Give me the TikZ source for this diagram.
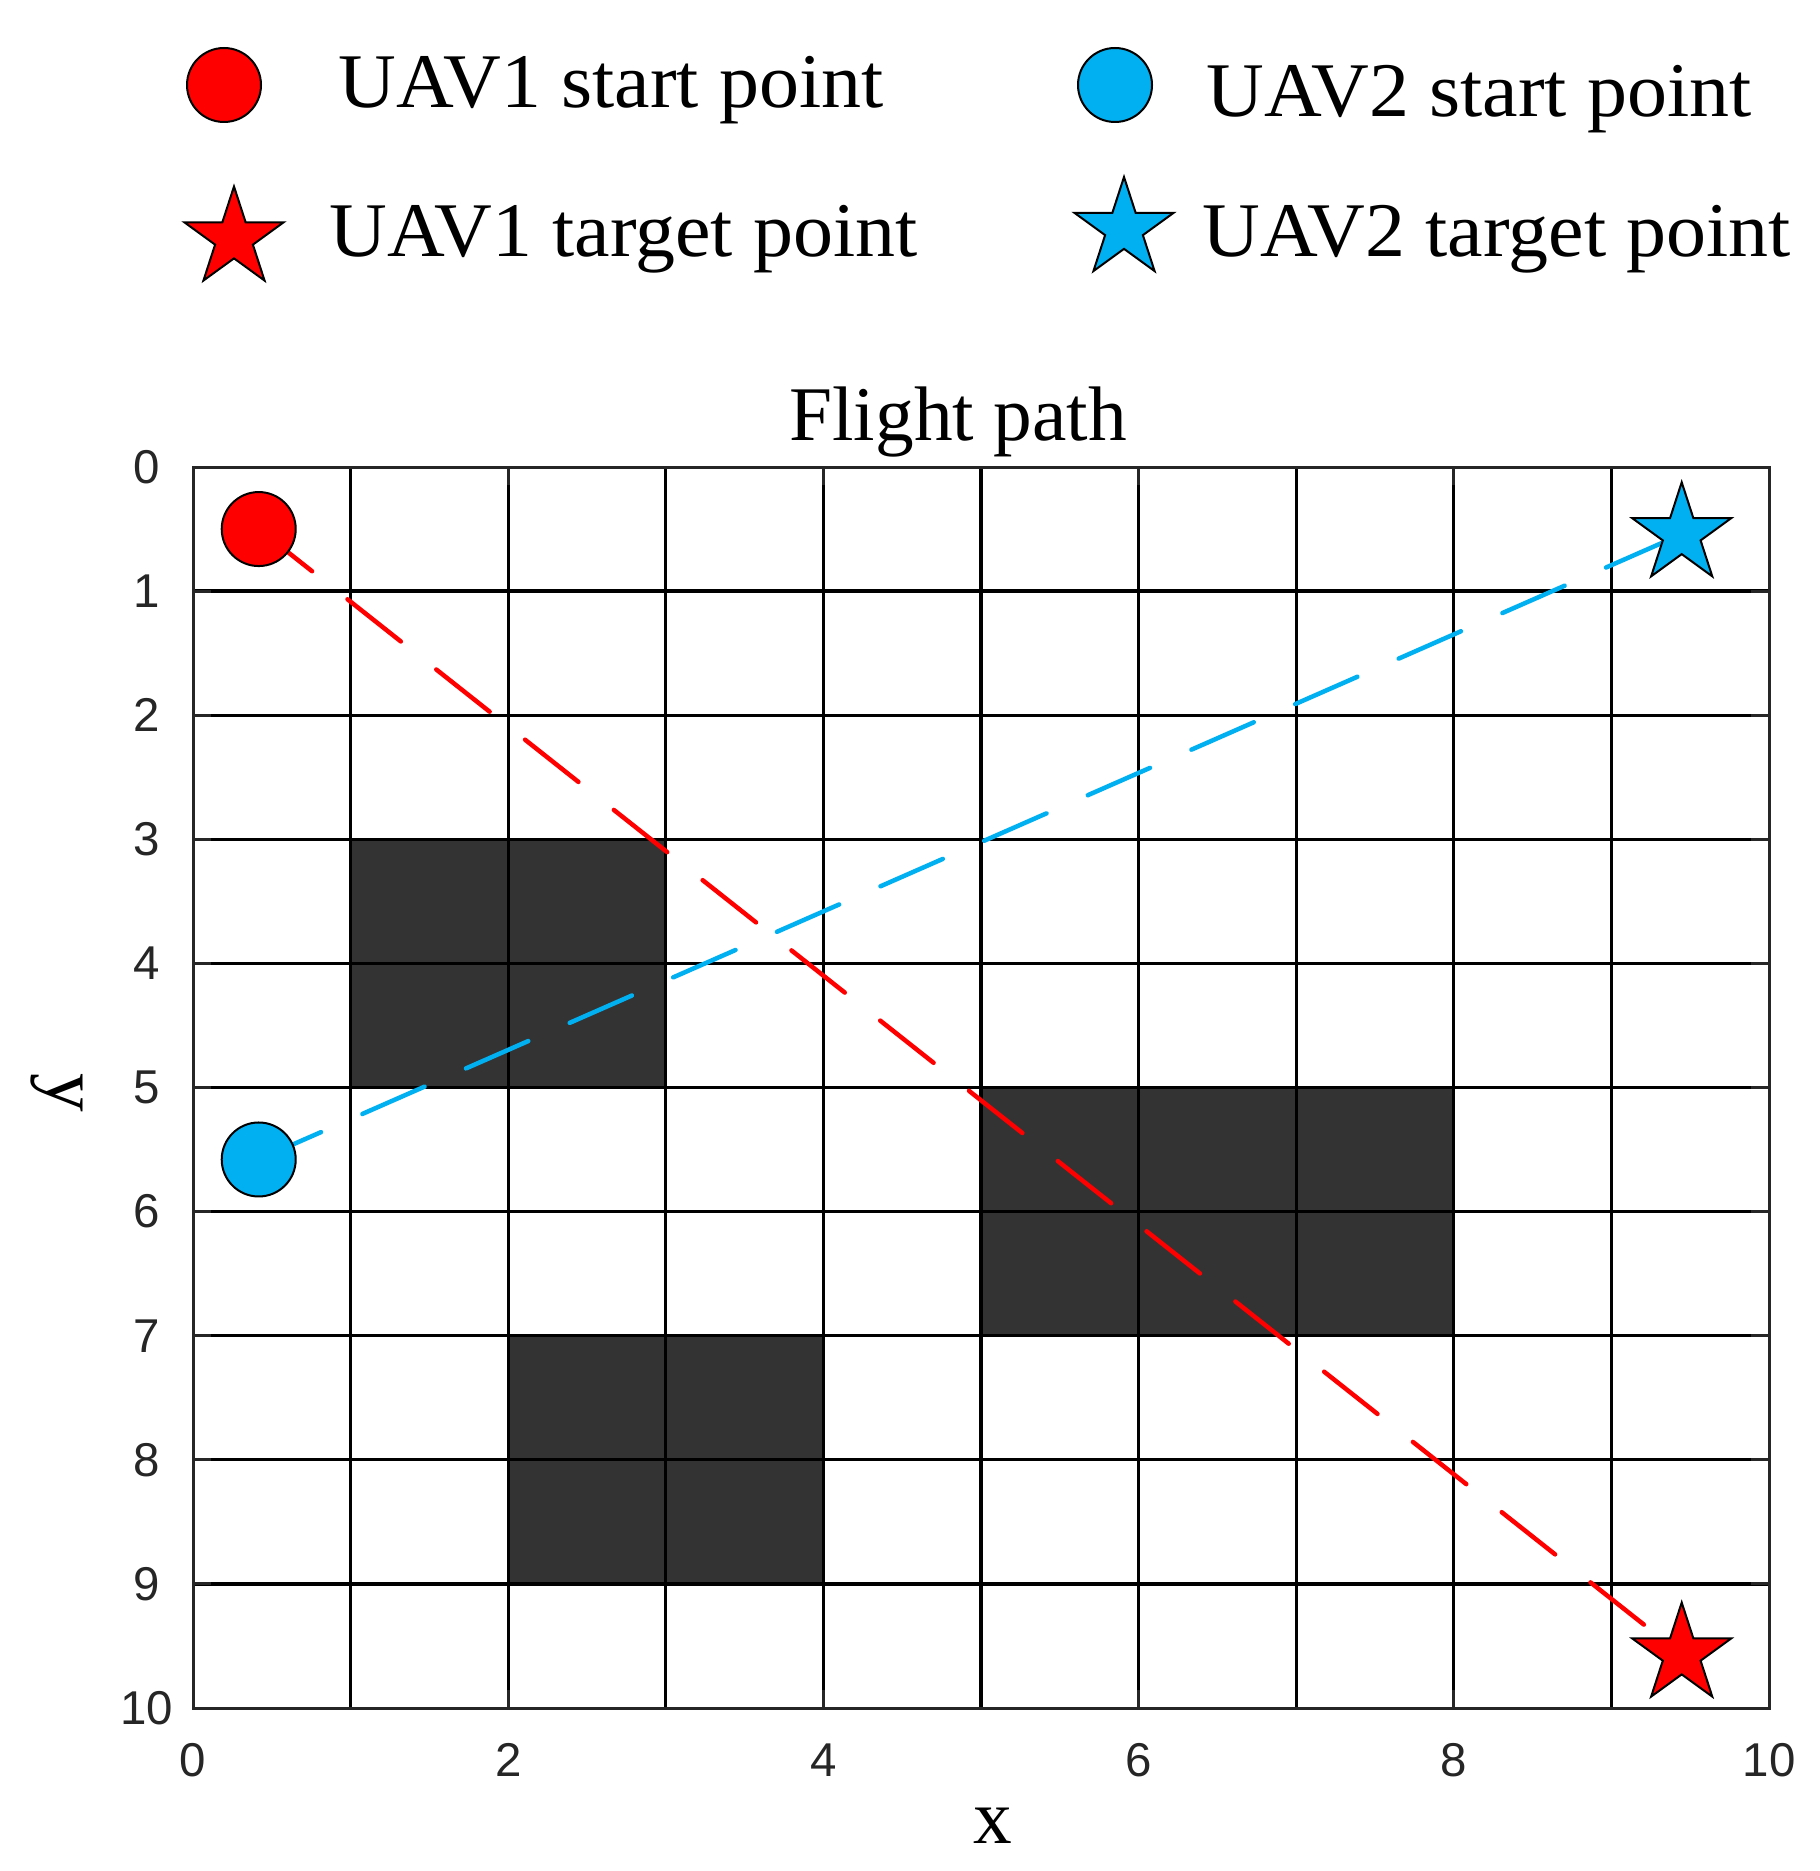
\documentclass[tikz,border=0pt]{standalone}
\usepackage{fontspec}
\setmainfont{Liberation Serif}
\setsansfont{Liberation Sans}
\newfontfamily\legendfont[FakeStretch=1.034]{Liberation Serif}
\usetikzlibrary{shapes.geometric}
\definecolor{uavred}{RGB}{255,0,0}
\definecolor{uavblue}{RGB}{0,176,240}
\definecolor{obstacle}{RGB}{51,51,51}
\definecolor{axisgrey}{RGB}{38,38,38}

\begin{document}
\begin{tikzpicture}[
        startmark/.style={circle, draw=black, line width=0.02cm, inner sep=0pt, minimum size=0.74cm},
        goalmark/.style={star, star points=5, star point ratio=2.618, draw=black, line width=0.02cm, inner sep=0pt, minimum size=1.04cm},
        flightpath/.style={line width=0.045cm, line cap=round, dash pattern=on 0.68cm off 0.452cm},
        seriftext/.style={inner sep=0pt, font=\fontsize{22}{26}\selectfont},
        legendtext/.style={inner sep=0pt, anchor=base west, font=\legendfont\fontsize{22}{26}\selectfont},
        ticklabel/.style={inner sep=0pt, text=axisgrey, font=\sffamily\fontsize{13.5}{16}\selectfont},
        gridline/.style={line width=0.033cm, black},
        axisline/.style={line width=0.03cm, axisgrey},
    ]
        \useasboundingbox (0,0) rectangle (18.19,-18.71);
        \node [startmark, fill=uavred] (legstart1) at (2.24,-0.85) {};
        \node [goalmark, fill=uavred] (leggoal1) at (2.34,-2.385) {};
        \node [startmark, fill=uavblue] (legstart2) at (11.15,-0.85) {};
        \node [goalmark, fill=uavblue] (leggoal2) at (11.24,-2.29) {};
        \node [legendtext] (legtext1) at (3.38,-1.08) {UAV1 start point};
        \node [legendtext] (legtext2) at (3.29,-2.57) {UAV1 target point};
        \node [legendtext] (legtext3) at (12.06,-1.17) {UAV2 start point};
        \node [legendtext] (legtext4) at (12.02,-2.57) {UAV2 target point};
        \node [seriftext, anchor=base] (title) at (9.58,-4.40) {Flight path};
        \node [seriftext, anchor=base] (xlabel) at (9.93,-18.43) {x};
        \node [seriftext, anchor=base, rotate=-90] (ylabel) at (0.48,-10.93) {y};
        \begin{scope}[shift={(1.93,-4.67)}, x={(1.576cm,0)}, y={(0,-1.241cm)}]
            \fill [obstacle] (1,3) rectangle (3,5);
            \fill [obstacle] (5,5) rectangle (8,7);
            \fill [obstacle] (2,7) rectangle (4,9);
            \foreach \x in {1, 2, ..., 9} {
                \draw [gridline] (\x,0) to (\x,10);
            }
            \foreach \y in {1, 2, ..., 9} {
                \draw [gridline] (0,\y) to (10,\y);
            }
            \foreach \y in {0, 1, ..., 10} {
                \draw [axisline] (0,\y) to ++(0.177cm,0);
                \draw [axisline] (10,\y) to ++(-0.177cm,0);
                \node [ticklabel] (ytick\y) at ([xshift=-0.46cm] 0,\y) {\y};
            }
            \foreach \x in {0, 2, ..., 10} {
                \draw [axisline] (\x,10) to ++(0,0.177cm);
                \draw [axisline] (\x,0) to ++(0,-0.177cm);
                \node [ticklabel] (xtick\x) at ([yshift=-0.52cm] \x,10) {\x};
            }
            \draw [axisline] (0,0) rectangle (10,10);
            \coordinate (s1) at (0.417,0.50);
            \coordinate (g1) at (9.446,9.569);
            \coordinate (s2) at (0.417,5.58);
            \coordinate (g2) at (9.446,0.542);
            \draw [flightpath, uavred] (s1) to (g1);
            \draw [flightpath, uavblue] (s2) to (g2);
            \node [startmark, fill=uavred] (uav1start) at (s1) {};
            \node [goalmark, fill=uavred] (uav1goal) at (g1) {};
            \node [startmark, fill=uavblue] (uav2start) at (s2) {};
            \node [goalmark, fill=uavblue] (uav2goal) at (g2) {};
        \end{scope}
    \end{tikzpicture}
\end{document}
